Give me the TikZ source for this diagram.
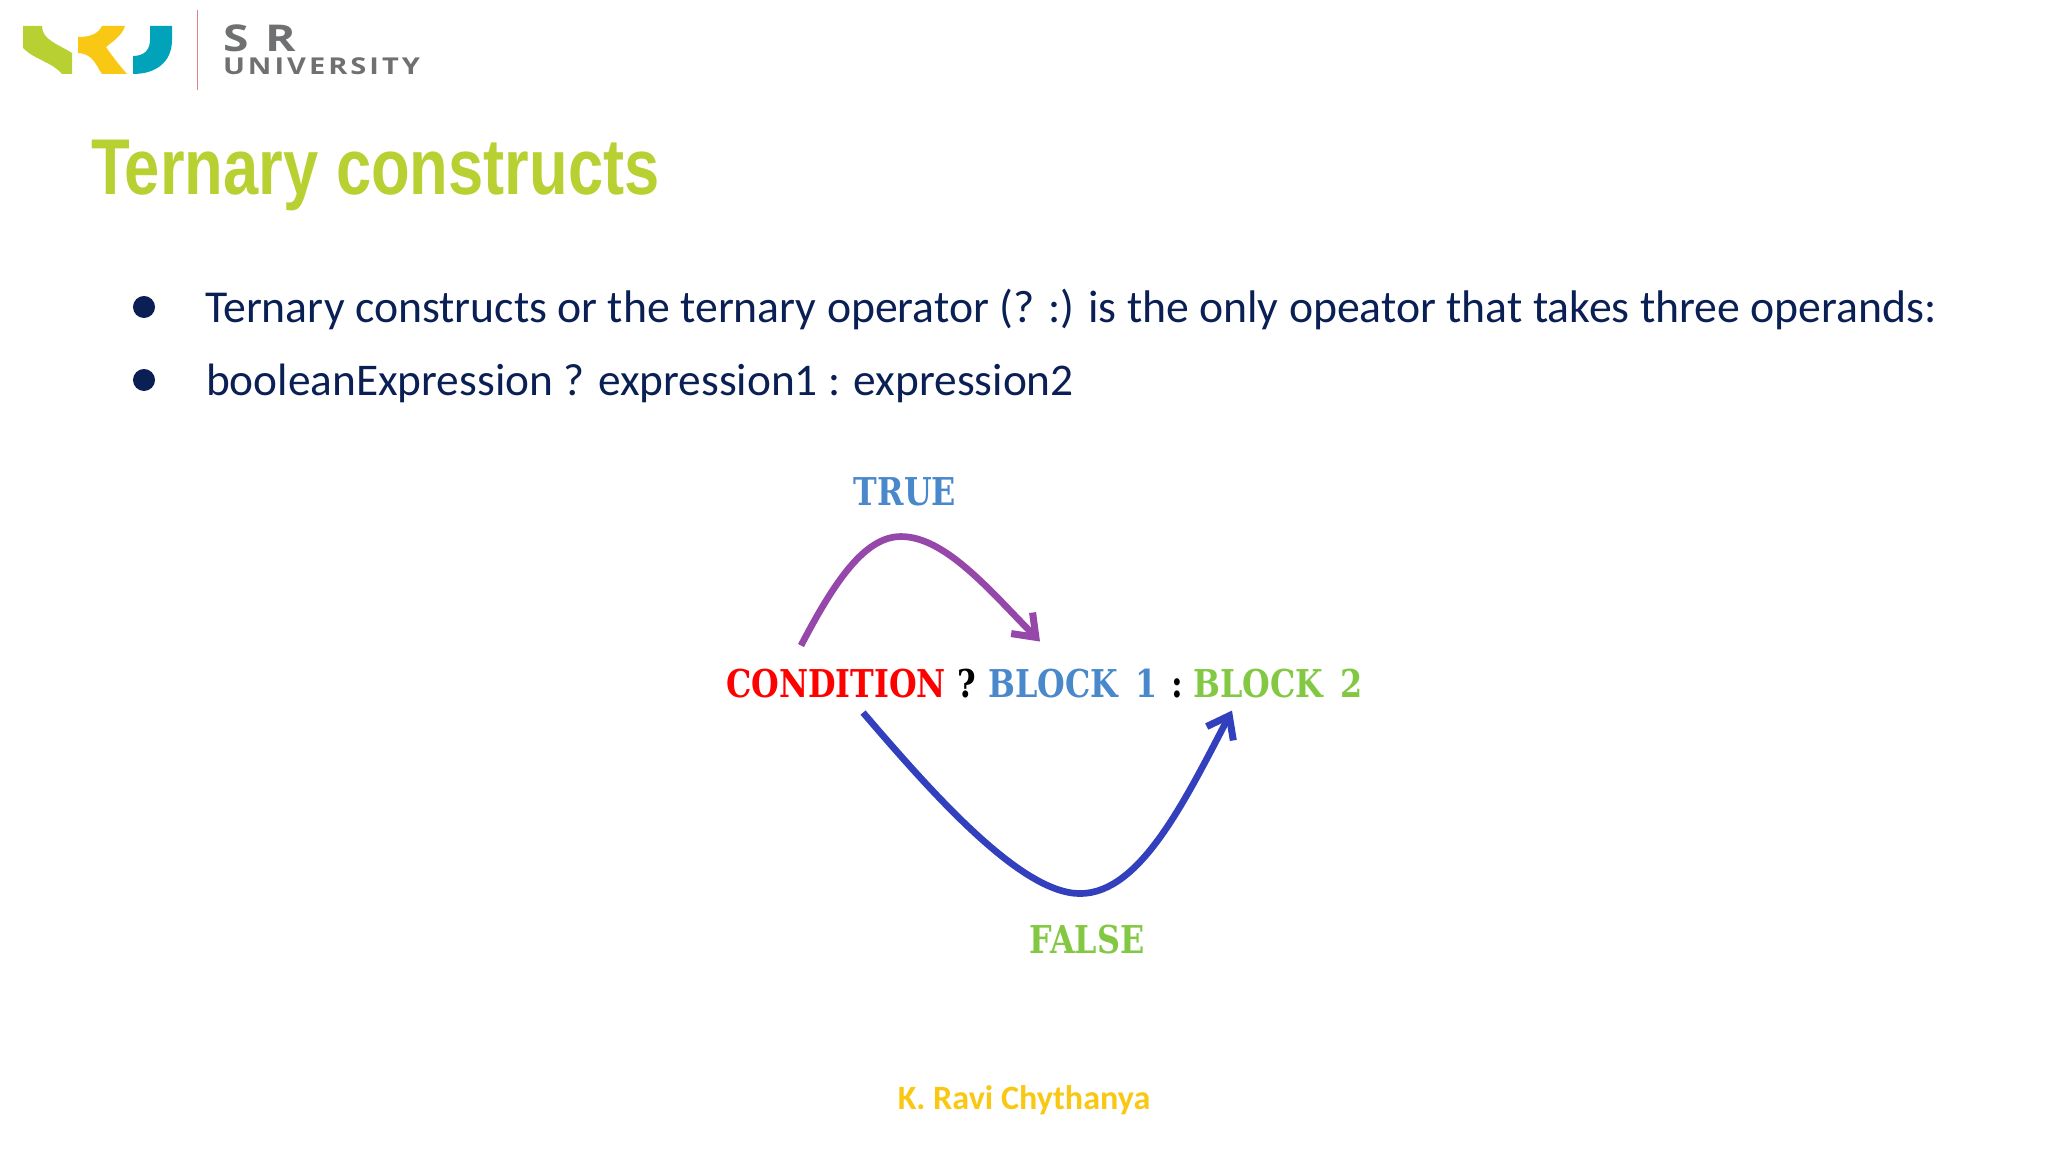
\documentclass[tikz,border=0pt]{standalone}
\usepackage{fontspec}
\setmainfont{Carlito}
\newfontfamily\titlefont[FakeStretch=0.8]{Liberation Sans}
\newfontfamily\stencilfont[FakeStretch=0.83]{DejaVu Serif}
\newfontfamily\logofont[FakeStretch=1.25,LetterSpace=13]{Open Sans}
\usetikzlibrary{arrows.meta, positioning}

\definecolor{srlime}{RGB}{184,208,50}
\definecolor{srgold}{RGB}{248,200,20}
\definecolor{srteal}{RGB}{0,163,186}
\definecolor{srgray}{RGB}{110,112,113}
\definecolor{srrule}{RGB}{226,130,135}
\definecolor{srnavy}{RGB}{10,32,84}
\definecolor{srblue}{RGB}{74,136,204}
\definecolor{srgreen}{RGB}{130,200,66}
\definecolor{srpurple}{RGB}{150,72,170}
\definecolor{srarc}{RGB}{50,64,190}

\begin{document}
\begin{tikzpicture}[
		x=0.01cm, y=-0.01cm,
		every node/.style={inner sep=0pt, outer sep=0pt},
		title/.style={anchor=base west, font=\titlefont\bfseries\fontsize{22.5}{26}\selectfont, text=srlime},
		body/.style={anchor=base west, font=\fontsize{13}{15}\selectfont, text=srnavy},
		bullet/.style={circle, fill=srnavy, minimum size=0.22cm},
		stencil/.style={anchor=base, font=\stencilfont\bfseries\fontsize{10.9}{12}\selectfont},
		to/.style={-{Straight Barb[length=2mm, width=3mm, line width=2pt]}, line width=1.9pt}
		]
		
		\useasboundingbox (0,0) rectangle (2048,1152);
		
		% logo
		\fill[srlime] (23,26) -- (42,26) .. controls (42,40) and (58,44) .. (72,53) -- (72,74) -- (62,74) .. controls (52,62) and (35,60) .. (23,48) -- cycle;
		\fill[srgold] (102,26) -- (125,26) .. controls (122,36) and (112,42) .. (106,47) .. controls (112,56) and (120,66) .. (127,74) -- (102,74) .. controls (96,66) and (94,54) .. (78,53) -- (78,37) .. controls (90,37) and (98,34) .. cycle;
		\fill[srteal] (150,26) -- (172,26) -- (172,40) .. controls (172,62) and (156,74) .. (133,74) -- (133,56) .. controls (144,56) and (150,50) .. (150,40) -- cycle;
		\node[coordinate] (ruletop) at (197.5,10) {};
		\node[coordinate] (rulebot) at (197.5,90) {};
		\draw[srrule, line width=0.4pt] (ruletop) -- (rulebot);
		\node[anchor=base west, font=\logofont\bfseries\fontsize{10.5}{12}\selectfont, text=srgray] (srname) at (223,52) {S R};
		\node[anchor=base west, font=\logofont\bfseries\fontsize{6.6}{8}\selectfont, text=srgray] (university) at (223,75) {UNIVERSITY};
		
		% heading and text
		\node[title] (heading) at (91,195) {Ternary constructs};
		\node[bullet] (dotone) at (144,307) {};
		\node[bullet] (dottwo) at (144,380) {};
		\node[body] (lineone) at (205,323) {Ternary constructs or the ternary operator (? :) is the only opeator that takes three operands:};
		\node[body, font=\fontsize{12.9}{15}\selectfont] (linetwo) at (206,396) {booleanExpression ? expression1 : expression2};
		
		% expression
		\node[stencil, text=red] (condition) at (836,697) {CONDITION};
		\node[stencil, text=black] (qmark) at (967,697) {?};
		\node[stencil, text=srblue] (blockone) at (1073,697) {BLOCK\, 1};
		\node[stencil, text=black] (colon) at (1177,697) {:};
		\node[stencil, text=srgreen] (blocktwo) at (1278,697) {BLOCK\, 2};
		\node[stencil, text=srblue] (truelabel) at (905,506) {TRUE};
		\node[stencil, text=srgreen] (falselabel) at (1087,953) {FALSE};
		
		\draw[to, srpurple] ([xshift=-0.35cm, yshift=0.23cm]condition.north) .. controls +(34,-65) and +(-36,0) .. ++(100,-109) .. controls +(44,0) and +(-50,-51) .. ([xshift=-0.33cm, yshift=0.27cm]blockone.north);
		\draw[to, srarc] ([xshift=0.27cm, yshift=-0.15cm]condition.south) .. controls +(67,78) and +(-60,0) .. ++(217,181) .. controls +(60,0) and +(-47,90) .. ([xshift=-0.46cm, yshift=-0.13cm]blocktwo.south);
		
		% footer
		\node[font=\bfseries\fontsize{9.7}{12}\selectfont, text=srgold] (footer) at (1024,1100) {K. Ravi Chythanya};
		
		\end{tikzpicture}
\end{document}
